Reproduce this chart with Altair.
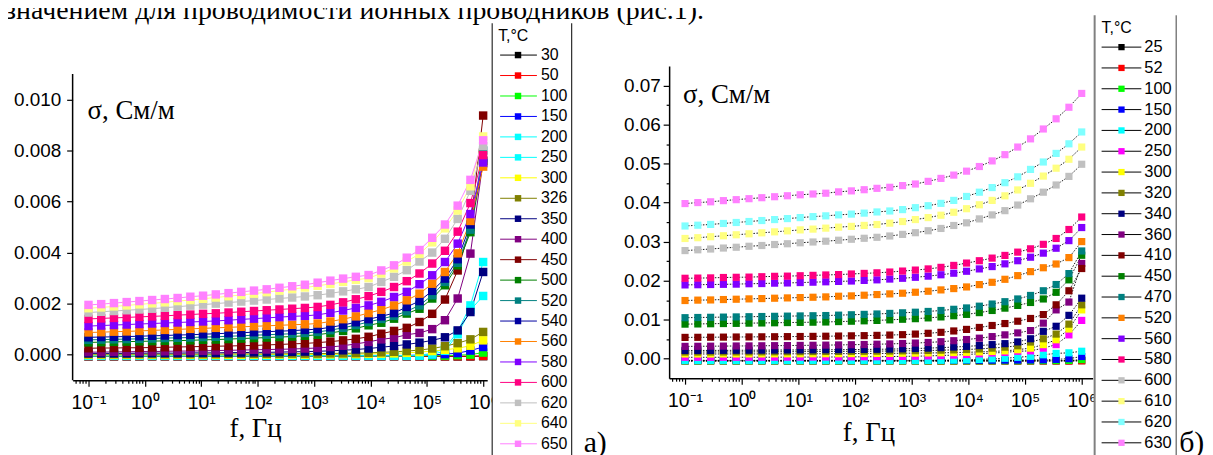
import altair as alt
import pandas as pd

SANS = "Liberation Sans"
SERIF = "Liberation Serif"

# ---------------- data ----------------
FREQ = [0.1, 0.1681, 0.2829, 0.4759, 0.8003, 1.346, 2.264, 3.808,
        6.404, 10.77, 18.12, 30.47, 51.25, 86.2, 145.0, 243.8,
        410.2, 689.9, 1160.0, 1952.0, 3282.0, 5521.0, 9284.0, 15615.0,
        26264.0, 44177.0, 74300.0, 124960.0, 210170.0, 353500.0, 594600.0, 1000000.0]

TEMPS_A = ["30", "50", "100", "150", "200", "250", "300", "326", "350", "400",
           "450", "500", "520", "540", "560", "580", "600", "620", "640", "650"]
COLORS_A = ["#000000", "#ff0000", "#00ff00", "#0000ff", "#00ffff", "#00ffff", "#ffff00",
            "#808000", "#000080", "#800080", "#800000", "#008000", "#008080", "#0000a0",
            "#ff8000", "#8000ff", "#ff0080", "#c0c0c0", "#ffff80", "#ff80ff"]

TEMPS_B = ["25", "52", "100", "150", "200", "250", "300", "320", "340", "360",
           "410", "450", "470", "520", "560", "580", "600", "610", "620", "630"]
COLORS_B = ["#000000", "#ff0000", "#00ff00", "#0000ff", "#00ffff", "#ff00ff", "#ffff00",
            "#808000", "#000080", "#800080", "#800000", "#008000", "#008080", "#ff8000",
            "#8000ff", "#ff0080", "#c0c0c0", "#ffff80", "#80ffff", "#ff80ff"]

# panel a) conductivity, units of 1e-3 S/m
A_30 = [-0.07, -0.07, -0.07, -0.07, -0.07, -0.07, -0.07, -0.07,
        -0.07, -0.07, -0.07, -0.07, -0.07, -0.07, -0.07, -0.07,
        -0.07, -0.07, -0.07, -0.07, -0.07, -0.07, -0.07, -0.07,
        -0.07, -0.07, -0.07, -0.07, -0.07, -0.07, -0.07, -0.06]
A_50 = [-0.06, -0.06, -0.06, -0.06, -0.06, -0.06, -0.06, -0.06,
        -0.06, -0.06, -0.06, -0.06, -0.06, -0.06, -0.06, -0.06,
        -0.06, -0.06, -0.06, -0.06, -0.06, -0.06, -0.06, -0.06,
        -0.06, -0.06, -0.06, -0.06, -0.06, -0.06, -0.06, -0.05]
A_100 = [-0.04, -0.04, -0.04, -0.04, -0.04, -0.04, -0.04, -0.04,
         -0.04, -0.04, -0.04, -0.04, -0.04, -0.04, -0.04, -0.04,
         -0.04, -0.04, -0.04, -0.04, -0.04, -0.04, -0.04, -0.04,
         -0.04, -0.04, -0.04, -0.04, -0.04, -0.02, 0.0, 0.08]
A_150 = [-0.03, -0.03, -0.03, -0.03, -0.03, -0.03, -0.03, -0.03,
         -0.03, -0.03, -0.03, -0.03, -0.03, -0.03, -0.03, -0.03,
         -0.03, -0.03, -0.03, -0.03, -0.03, -0.03, -0.03, -0.03,
         -0.03, -0.03, -0.02, -0.01, 0.02, 0.06, 0.16, 0.3]
A_200 = [-0.05, -0.05, -0.05, -0.05, -0.05, -0.05, -0.05, -0.05,
         -0.05, -0.05, -0.05, -0.05, -0.05, -0.05, -0.05, -0.05,
         -0.05, -0.05, -0.05, -0.05, -0.05, -0.05, -0.05, -0.05,
         -0.05, -0.05, -0.04, 0.0, 0.15, 0.8, 1.75, 2.3]
A_250 = [-0.04, -0.04, -0.04, -0.04, -0.04, -0.04, -0.04, -0.04,
         -0.04, -0.04, -0.04, -0.04, -0.04, -0.04, -0.04, -0.04,
         -0.04, -0.04, -0.04, -0.04, -0.04, -0.04, -0.04, -0.04,
         -0.04, -0.03, -0.02, 0.05, 0.25, 0.9, 1.93, 3.63]
A_300 = [-0.01, -0.01, -0.01, -0.01, -0.01, -0.01, -0.01, -0.01,
         -0.01, -0.01, -0.01, -0.01, -0.01, 0.0, 0.0, 0.0,
         0.0, 0.0, 0.01, 0.01, 0.02, 0.02, 0.03, 0.04,
         0.05, 0.07, 0.1, 0.14, 0.19, 0.25, 0.35, 0.56]
A_326 = [0.02, 0.02, 0.02, 0.02, 0.02, 0.02, 0.02, 0.02,
         0.02, 0.02, 0.02, 0.03, 0.03, 0.03, 0.03, 0.03,
         0.04, 0.04, 0.04, 0.05, 0.05, 0.06, 0.07, 0.09,
         0.11, 0.14, 0.18, 0.24, 0.33, 0.45, 0.6, 0.89]
A_350 = [0.05, 0.05, 0.05, 0.05, 0.06, 0.06, 0.06, 0.06,
         0.07, 0.07, 0.07, 0.08, 0.08, 0.09, 0.09, 0.1,
         0.11, 0.12, 0.13, 0.15, 0.17, 0.2, 0.24, 0.29,
         0.34, 0.4, 0.47, 0.56, 0.68, 0.95, 1.67, 3.24]
A_400 = [0.1, 0.1, 0.11, 0.11, 0.12, 0.12, 0.13, 0.14,
         0.14, 0.15, 0.16, 0.17, 0.18, 0.19, 0.2, 0.21,
         0.22, 0.24, 0.26, 0.3, 0.35, 0.42, 0.5, 0.6,
         0.66, 0.78, 0.85, 1.0, 1.35, 2.2, 3.96, 7.6]
A_450 = [0.25, 0.26, 0.26, 0.27, 0.27, 0.28, 0.29, 0.3,
         0.31, 0.32, 0.33, 0.34, 0.35, 0.36, 0.38, 0.4,
         0.42, 0.44, 0.47, 0.51, 0.56, 0.62, 0.7, 0.82,
         0.93, 1.05, 1.28, 1.6, 2.16, 3.3, 5.0, 9.37]
A_500 = [0.48, 0.49, 0.5, 0.51, 0.52, 0.53, 0.54, 0.55,
         0.56, 0.58, 0.59, 0.61, 0.63, 0.65, 0.67, 0.69,
         0.71, 0.74, 0.78, 0.85, 0.93, 1.03, 1.15, 1.25,
         1.41, 1.61, 1.8, 2.2, 2.72, 3.5, 4.8, 7.6]
A_520 = [0.58, 0.59, 0.6, 0.61, 0.62, 0.63, 0.65, 0.66,
         0.67, 0.69, 0.7, 0.72, 0.74, 0.76, 0.78, 0.8,
         0.82, 0.85, 0.89, 0.96, 1.05, 1.16, 1.28, 1.4,
         1.52, 1.7, 1.93, 2.33, 2.85, 3.6, 4.9, 8.0]
A_540 = [0.68, 0.69, 0.7, 0.71, 0.72, 0.74, 0.75, 0.77,
         0.78, 0.8, 0.82, 0.84, 0.86, 0.88, 0.9, 0.92,
         0.94, 0.97, 1.0, 1.07, 1.16, 1.27, 1.39, 1.5,
         1.63, 1.87, 2.1, 2.5, 2.98, 3.74, 5.1, 7.5]
A_560 = [0.87, 0.88, 0.9, 0.91, 0.93, 0.95, 0.97, 0.99,
         1.01, 1.03, 1.05, 1.07, 1.09, 1.11, 1.13, 1.15,
         1.17, 1.19, 1.22, 1.3, 1.39, 1.5, 1.63, 1.76,
         1.93, 2.13, 2.39, 2.78, 3.24, 3.97, 5.24, 7.37]
A_580 = [1.12, 1.14, 1.16, 1.18, 1.2, 1.22, 1.24, 1.26,
         1.28, 1.3, 1.32, 1.35, 1.38, 1.41, 1.44, 1.47,
         1.5, 1.52, 1.56, 1.64, 1.73, 1.83, 1.93, 2.07,
         2.26, 2.46, 2.76, 3.11, 3.63, 4.35, 5.51, 7.53]
A_600 = [1.4, 1.42, 1.44, 1.46, 1.48, 1.5, 1.52, 1.55,
         1.57, 1.6, 1.62, 1.65, 1.68, 1.71, 1.74, 1.77,
         1.8, 1.83, 1.87, 1.95, 2.05, 2.17, 2.29, 2.46,
         2.65, 2.88, 3.18, 3.57, 4.07, 4.82, 5.94, 7.82]
A_620 = [1.65, 1.68, 1.71, 1.74, 1.77, 1.8, 1.84, 1.88,
         1.92, 1.96, 2.0, 2.04, 2.08, 2.12, 2.16, 2.2,
         2.24, 2.28, 2.33, 2.4, 2.48, 2.56, 2.65, 2.85,
         3.05, 3.31, 3.65, 4.0, 4.54, 5.32, 6.42, 8.17]
A_640 = [1.82, 1.85, 1.89, 1.93, 1.97, 2.01, 2.05, 2.1,
         2.14, 2.19, 2.24, 2.29, 2.34, 2.39, 2.45, 2.51,
         2.57, 2.63, 2.7, 2.77, 2.85, 2.93, 3.0, 3.18,
         3.38, 3.65, 3.95, 4.4, 4.95, 5.65, 6.6, 8.55]
A_650 = [1.95, 1.98, 2.02, 2.06, 2.1, 2.14, 2.18, 2.22,
         2.27, 2.31, 2.36, 2.41, 2.46, 2.51, 2.56, 2.62,
         2.68, 2.74, 2.82, 2.9, 2.98, 3.05, 3.12, 3.3,
         3.5, 3.8, 4.1, 4.58, 5.1, 5.84, 6.85, 8.4]

# panel б) conductivity, units of 1e-3 S/m
B_25 = [-0.55, -0.55, -0.55, -0.55, -0.55, -0.55, -0.55, -0.55,
        -0.55, -0.55, -0.55, -0.55, -0.55, -0.55, -0.55, -0.55,
        -0.55, -0.55, -0.55, -0.55, -0.55, -0.55, -0.55, -0.55,
        -0.55, -0.55, -0.55, -0.55, -0.55, -0.55, -0.55, -0.5]
B_52 = [-0.6, -0.6, -0.6, -0.6, -0.6, -0.6, -0.6, -0.6,
        -0.6, -0.6, -0.6, -0.6, -0.6, -0.6, -0.6, -0.6,
        -0.6, -0.6, -0.6, -0.6, -0.6, -0.6, -0.6, -0.6,
        -0.6, -0.6, -0.6, -0.6, -0.6, -0.6, -0.6, -0.55]
B_100 = [-0.55, -0.55, -0.55, -0.55, -0.55, -0.55, -0.55, -0.55,
         -0.55, -0.55, -0.55, -0.55, -0.55, -0.55, -0.55, -0.55,
         -0.55, -0.55, -0.55, -0.55, -0.55, -0.55, -0.55, -0.55,
         -0.55, -0.55, -0.55, -0.55, -0.52, -0.5, -0.45, -0.25]
B_150 = [-0.42, -0.42, -0.42, -0.42, -0.42, -0.42, -0.42, -0.42,
         -0.42, -0.42, -0.42, -0.42, -0.42, -0.42, -0.42, -0.42,
         -0.42, -0.42, -0.42, -0.42, -0.41, -0.41, -0.4, -0.4,
         -0.39, -0.38, -0.36, -0.33, -0.28, -0.18, 0.0, 0.55]
B_200 = [-0.5, -0.5, -0.5, -0.5, -0.5, -0.5, -0.5, -0.5,
         -0.5, -0.5, -0.5, -0.5, -0.5, -0.5, -0.5, -0.5,
         -0.5, -0.5, -0.5, -0.46, -0.43, -0.38, -0.3, -0.2,
         -0.05, 0.1, 0.35, 0.6, 1.0, 1.35, 1.5, 1.9]
B_250 = [0.35, 0.35, 0.35, 0.36, 0.36, 0.37, 0.37, 0.38,
         0.39, 0.4, 0.41, 0.42, 0.44, 0.46, 0.48, 0.5,
         0.54, 0.58, 0.63, 0.7, 0.8, 0.92, 1.07, 1.25,
         1.45, 1.6, 1.9, 2.0, 2.7, 3.6, 6.1, 9.8]
B_300 = [1.2, 1.2, 1.2, 1.21, 1.21, 1.22, 1.22, 1.23,
         1.24, 1.25, 1.26, 1.27, 1.28, 1.3, 1.32, 1.34,
         1.36, 1.39, 1.42, 1.46, 1.5, 1.56, 1.63, 1.72,
         1.85, 2.0, 2.3, 2.7, 3.6, 4.85, 7.6, 12.5]
B_320 = [1.7, 1.7, 1.71, 1.72, 1.73, 1.74, 1.75, 1.76,
         1.78, 1.8, 1.82, 1.84, 1.86, 1.88, 1.9, 1.93,
         1.96, 2.0, 2.05, 2.1, 2.17, 2.25, 2.35, 2.5,
         2.7, 2.95, 3.3, 4.26, 5.1, 6.3, 8.85, 13.8]
B_340 = [2.1, 2.1, 2.12, 2.13, 2.15, 2.16, 2.18, 2.2,
         2.22, 2.24, 2.26, 2.28, 2.3, 2.33, 2.36, 2.4,
         2.45, 2.52, 2.6, 2.7, 2.82, 2.97, 3.15, 3.35,
         3.6, 3.85, 4.3, 5.1, 7.0, 8.3, 11.1, 15.5]
B_360 = [3.15, 3.17, 3.2, 3.22, 3.25, 3.27, 3.3, 3.33,
         3.36, 3.4, 3.43, 3.47, 3.52, 3.57, 3.63, 3.7,
         3.78, 3.88, 4.0, 4.15, 4.35, 4.6, 4.9, 5.25,
         5.65, 6.1, 6.6, 7.2, 9.1, 12.5, 14.5, 24.4]
B_410 = [5.45, 5.47, 5.5, 5.52, 5.55, 5.57, 5.6, 5.62,
         5.65, 5.68, 5.71, 5.75, 5.8, 5.85, 5.9, 5.97,
         6.05, 6.15, 6.3, 6.5, 6.75, 7.1, 7.5, 8.0,
         8.5, 9.0, 9.6, 10.3, 11.3, 13.8, 17.4, 23.1]
B_450 = [8.85, 8.9, 8.95, 9.0, 9.05, 9.1, 9.15, 9.2,
         9.25, 9.3, 9.35, 9.4, 9.5, 9.6, 9.7, 9.8,
         9.95, 10.1, 10.25, 10.45, 10.7, 11.0, 11.35, 11.8,
         12.35, 12.95, 13.65, 14.4, 15.3, 17.0, 20.2, 26.5]
B_470 = [10.5, 10.55, 10.6, 10.65, 10.7, 10.75, 10.8, 10.85,
         10.9, 10.95, 11.0, 11.05, 11.15, 11.25, 11.35, 11.45,
         11.6, 11.75, 11.9, 12.1, 12.35, 12.65, 13.0, 13.45,
         14.0, 14.6, 15.3, 16.2, 17.4, 19.0, 21.8, 27.6]
B_520 = [14.9, 15.0, 15.05, 15.15, 15.23, 15.32, 15.4, 15.49,
         15.57, 15.66, 15.74, 15.83, 16.0, 16.09, 16.26, 16.43,
         16.6, 16.77, 17.02, 17.28, 17.62, 17.96, 18.38, 18.98,
         19.57, 20.34, 21.28, 22.3, 23.3, 24.26, 25.9, 30.0]
B_560 = [18.9, 18.95, 19.0, 19.05, 19.1, 19.2, 19.25, 19.35,
         19.4, 19.5, 19.6, 19.7, 19.8, 19.9, 20.05, 20.2,
         20.4, 20.6, 20.85, 21.15, 21.5, 21.9, 22.4, 23.0,
         23.6, 24.3, 25.1, 26.0, 27.04, 28.3, 30.25, 33.6]
B_580 = [20.6, 20.65, 20.7, 20.8, 20.85, 20.9, 21.0, 21.1,
         21.15, 21.25, 21.35, 21.45, 21.55, 21.7, 21.85, 22.0,
         22.2, 22.45, 22.7, 23.0, 23.4, 23.9, 24.5, 25.1,
         25.77, 26.46, 27.3, 28.15, 29.3, 30.8, 33.1, 36.3]
B_600 = [27.7, 27.9, 28.1, 28.35, 28.55, 28.8, 29.0, 29.25,
         29.45, 29.7, 29.9, 30.1, 30.35, 30.6, 30.85, 31.1,
         31.44, 31.85, 32.28, 32.78, 33.37, 34.13, 34.81, 35.82,
         36.84, 37.93, 39.37, 40.97, 42.66, 44.51, 46.71, 49.82]
B_610 = [30.8, 31.0, 31.25, 31.5, 31.75, 32.0, 32.25, 32.5,
         32.75, 33.0, 33.2, 33.45, 33.7, 33.9, 34.15, 34.38,
         34.73, 35.14, 35.65, 36.15, 36.76, 37.52, 38.43, 39.44,
         40.56, 41.73, 43.24, 44.94, 46.79, 48.81, 51.1, 54.23]
B_620 = [34.0, 34.2, 34.4, 34.65, 34.9, 35.15, 35.4, 35.65,
         35.9, 36.15, 36.4, 36.6, 36.85, 37.05, 37.3, 37.6,
         37.85, 38.2, 38.7, 39.2, 39.8, 40.56, 41.57, 42.66,
         43.85, 45.1, 46.6, 48.5, 50.4, 52.6, 55.06, 58.1]
B_630 = [39.75, 40.0, 40.2, 40.5, 40.75, 41.0, 41.25, 41.5,
         41.75, 42.0, 42.2, 42.4, 42.75, 43.0, 43.3, 43.65,
         43.92, 44.35, 44.76, 45.44, 46.2, 47.04, 48.05, 49.24,
         50.68, 52.28, 54.23, 56.33, 58.86, 61.47, 64.43, 67.97]

SERIES_A = [A_30, A_50, A_100, A_150, A_200, A_250, A_300, A_326, A_350, A_400,
            A_450, A_500, A_520, A_540, A_560, A_580, A_600, A_620, A_640, A_650]
SERIES_B = [B_25, B_52, B_100, B_150, B_200, B_250, B_300, B_320, B_340, B_360,
            B_410, B_450, B_470, B_520, B_560, B_580, B_600, B_610, B_620, B_630]

X_MAJOR = [0.1, 1, 10, 100, 1000, 10000, 100000, 1000000]
X_LABELS = ["10⁻¹", "10⁰", "10¹", "10²", "10³", "10⁴", "10⁵", "10⁶"]
Y_A_TICKS = [0.0, 0.001, 0.002, 0.003, 0.004, 0.005, 0.006, 0.007, 0.008, 0.009, 0.010]
Y_B_TICKS = [0.0, 0.005, 0.01, 0.015, 0.02, 0.025, 0.03, 0.035, 0.04, 0.045,
             0.05, 0.055, 0.06, 0.065, 0.07]

SENTENCE = "значением для проводимости ионных проводников (рис.1)."
Y_NOTE = "σ, См/м"
X_NOTE = "f, Гц"
LEG_TITLE = "T,°C"


def long_table(temps, series, key):
    rows = []
    for t, vals in zip(temps, series):
        assert len(vals) == len(FREQ), t
        for f, v in zip(FREQ, vals):
            rows.append({key: t, "f": f, "s": v / 1000.0})
    return pd.DataFrame(rows)


def x_ticks(lo, hi):
    minor = [m * 10.0 ** e for e in range(-2, 7) for m in range(1, 10)]
    return [v for v in minor if lo <= v <= hi]


X_MAJOR_TEST = "abs(log(datum.value)/LN10 - round(log(datum.value)/LN10)) < 0.001"
X_LABEL_EXPR = " : ".join(
    f"abs(datum.value - {v}) < {v * 0.01} ? '{lab}'" for v, lab in zip(X_MAJOR, X_LABELS)
) + " : ''"


def x_axis(lo, hi):
    return alt.Axis(values=x_ticks(lo, hi), labelExpr=X_LABEL_EXPR, title=None, grid=False,
                    tickSize={"condition": {"test": X_MAJOR_TEST, "value": 6}, "value": 3},
                    labelFont=SANS, labelFontSize=19.5, labelColor="black",
                    domainColor="black", tickColor="black", domainWidth=1.5, tickWidth=1.2,
                    labelPadding=7, labelOverlap=False, labelFlush=False)


def y_axis(values, mult, fmt, pad, domain=True):
    test = f"abs(datum.value*{mult} - round(datum.value*{mult})) < 0.01"
    return alt.Axis(values=values, labelExpr=f"{test} ? format(datum.value, '{fmt}') : ''",
                    title=None, grid=False, domain=domain,
                    tickSize={"condition": {"test": test, "value": 6}, "value": 3},
                    labelFont=SANS, labelFontSize=19, labelColor="black",
                    domainColor="black", tickColor="black", domainWidth=1.5, tickWidth=1.2,
                    labelPadding=pad, labelOverlap=False, labelFlush=False)


def text_layer(txt, x, y, size, font=SERIF, align="left", baseline="middle"):
    return alt.Chart(pd.DataFrame({"t": [txt]})).mark_text(
        align=align, baseline=baseline, font=font, fontSize=size, color="black"
    ).encode(x=alt.value(x), y=alt.value(y), text="t:N")


ONE = pd.DataFrame({"a": [0]})

# ---------------- panel a) ----------------
A_W, A_H = 417, 316
A_XDOM = [0.0523, 1.18e6]
A_YLO, A_YTOP, A_YMAX = -0.001, 0.011, 0.011312
dfA = long_table(TEMPS_A, SERIES_A, "TA")
colA = alt.Color("TA:N", scale=alt.Scale(domain=TEMPS_A, range=COLORS_A), legend=None)
xA = alt.X("f:Q", scale=alt.Scale(type="log", domain=A_XDOM, nice=False), axis=x_axis(*A_XDOM))
yA = alt.Y("s:Q", scale=alt.Scale(domain=[A_YLO, A_YMAX], nice=False, zero=False),
           axis=y_axis(Y_A_TICKS, 500, ".3f", 6, domain=False))
linesA = alt.Chart(dfA).mark_line(strokeWidth=1).encode(x=xA, y=yA, color=colA, order="f:Q")
ptsA = alt.Chart(dfA).mark_point(shape="square", filled=True, size=72, opacity=1).encode(
    x=xA, y=yA, color=colA)
yAxisLineA = alt.Chart(ONE).mark_rule(color="black", strokeWidth=1.5).encode(
    x=alt.value(0), y=alt.datum(A_YLO), y2=alt.datum(A_YTOP))
plotA = alt.layer(
    linesA, ptsA, yAxisLineA,
    text_layer(Y_NOTE, 15, 45, 27),
    text_layer(X_NOTE, 184, 373, 27, align="center", baseline="alphabetic"),
    text_layer(SENTENCE, -68, -47, 28, baseline="alphabetic"),
).properties(width=A_W, height=A_H)

legdfA = pd.DataFrame({"TA": TEMPS_A})
yLegA = alt.Y("TA:N", scale=alt.Scale(type="point", domain=TEMPS_A, range=[-11, 380], padding=0),
              axis=None)
legendA = alt.layer(
    alt.Chart(ONE).mark_rect(color="white").encode(
        x=alt.value(5), x2=alt.value(85), y=alt.value(-43), y2=alt.value(400)),
    alt.Chart(ONE).mark_rule(color="black", strokeWidth=1).encode(
        x=alt.value(5), y=alt.value(-43), y2=alt.value(400)),
    alt.Chart(ONE).mark_rule(color="black", strokeWidth=1).encode(
        x=alt.value(85), y=alt.value(-43), y2=alt.value(400)),
    alt.Chart(legdfA).mark_rule(strokeWidth=1).encode(
        x=alt.value(13), x2=alt.value(50), y=yLegA, color=colA),
    alt.Chart(legdfA).mark_point(shape="square", filled=True, size=42, opacity=1).encode(
        x=alt.value(31), y=yLegA, color=colA),
    alt.Chart(legdfA).mark_text(align="left", baseline="middle", font=SANS, fontSize=16,
                                color="black").encode(x=alt.value(54), y=yLegA, text="TA:N"),
    text_layer(LEG_TITLE, 11, -30, 16, font=SANS),
    text_layer("a)", 97, 388, 30, baseline="alphabetic"),
).properties(width=183, height=314)

# ---------------- panel б) ----------------
B_W, B_H = 426, 314
B_XDOM = [0.0524, 1.56e6]
dfB = long_table(TEMPS_B, SERIES_B, "TB")
colB = alt.Color("TB:N", scale=alt.Scale(domain=TEMPS_B, range=COLORS_B), legend=None)
xB = alt.X("f:Q", scale=alt.Scale(type="log", domain=B_XDOM, nice=False), axis=x_axis(*B_XDOM))
yB = alt.Y("s:Q", scale=alt.Scale(domain=[-0.005, 0.075], nice=False, zero=False),
           axis=y_axis(Y_B_TICKS, 100, ".2f", 3))
linesB = alt.Chart(dfB).mark_line(color="black", strokeWidth=0.9, strokeDash=[1.5, 1.5]).encode(
    x=xB, y=yB, detail="TB:N", order="f:Q")
ptsB = alt.Chart(dfB).mark_point(shape="square", filled=True, size=52, opacity=1).encode(
    x=xB, y=yB, color=colB)
plotB = alt.layer(
    linesB, ptsB,
    text_layer(Y_NOTE, 14, 29, 27),
    text_layer(X_NOTE, 201, 377, 27, align="center", baseline="alphabetic"),
).properties(width=B_W, height=B_H)

legdfB = pd.DataFrame({"TB": TEMPS_B})
yLegB = alt.Y("TB:N", scale=alt.Scale(type="point", domain=TEMPS_B, range=[-19, 379], padding=0),
              axis=None)
legendB = alt.layer(
    alt.Chart(ONE).mark_rect(color="white").encode(
        x=alt.value(2), x2=alt.value(84), y=alt.value(-51), y2=alt.value(400)),
    alt.Chart(ONE).mark_rule(color="#808080", strokeWidth=2).encode(
        x=alt.value(2), y=alt.value(-51), y2=alt.value(400)),
    alt.Chart(ONE).mark_rule(color="#404040", strokeWidth=1).encode(
        x=alt.value(84), y=alt.value(-51), y2=alt.value(400)),
    alt.Chart(legdfB).mark_rule(color="black", strokeWidth=1).encode(
        x=alt.value(9), x2=alt.value(49), y=yLegB),
    alt.Chart(legdfB).mark_point(shape="square", filled=True, size=40, opacity=1).encode(
        x=alt.value(29), y=yLegB, color=colB),
    alt.Chart(legdfB).mark_text(align="left", baseline="middle", font=SANS, fontSize=16.5,
                                color="black").encode(x=alt.value(52), y=yLegB, text="TB:N"),
    text_layer(LEG_TITLE, 9, -38, 16, font=SANS),
    text_layer("б)", 87, 388, 30, baseline="alphabetic"),
).properties(width=86, height=314)

chart = alt.hconcat(plotA, legendA, plotB, legendB, spacing=0, bounds="flush").resolve_scale(
    color="independent"
).properties(
    padding={"left": -4, "top": -13, "right": 0, "bottom": 0}
).configure_view(stroke="transparent")

chart.save("out.html", embed_options={"renderer": "svg", "actions": False})
